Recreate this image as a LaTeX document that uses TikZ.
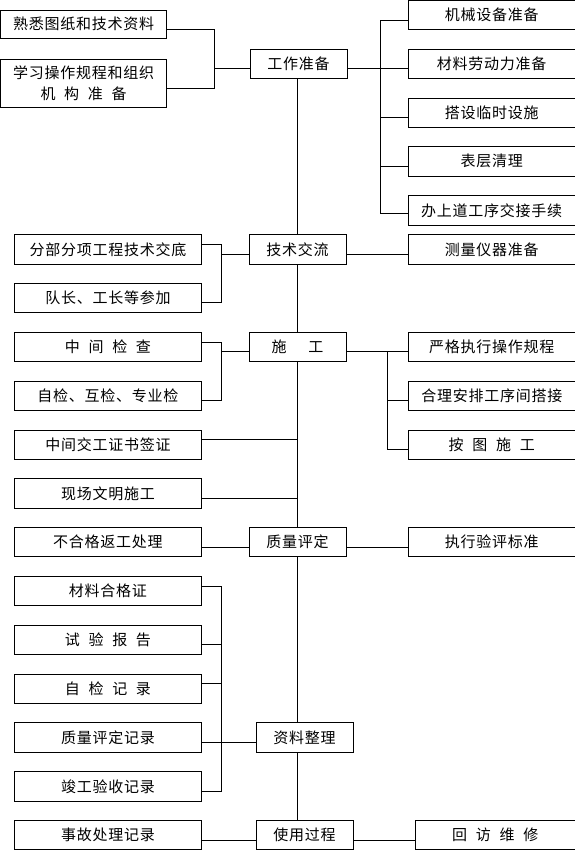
\documentclass[tikz,border=0pt]{standalone}
\usepackage{fontspec}
\newfontfamily\cjk[LetterSpace=5]{Noto Sans CJK SC}
\usetikzlibrary{calc}
\newcommand\gp{\hspace{8.7pt}}
\newcommand\bx[6]{\node[box,minimum width={#4pt-#2pt},minimum height={#5pt-#3pt}] (#1) at ({(#2+#4)/2},{(#3+#5)/2}) {#6};}
\begin{document}
\begin{tikzpicture}[x=1pt,y=-1pt,
  box/.style={draw,line width=0.9pt,inner sep=0pt,align=center,font=\cjk\fontsize{15}{21.7}\selectfont},
  ln/.style={line width=0.9pt}]
\useasboundingbox (0,0) rectangle (574,850);
% left top
\bx{a1}{0.5}{10}{166.7}{38.3}{熟悉图纸和技术资料}
\bx{a2}{0.5}{59.3}{166.7}{107.3}{学习操作规程和组织\\机\gp 构\gp 准\gp 备}
% main column
\bx{m1}{250}{49.3}{347}{78.3}{工作准备}
\bx{m2}{249}{234.3}{346}{264.3}{技术交流}
\bx{m3}{249}{332.7}{346}{361.7}{施\hspace{22pt}工}
\bx{m4}{249}{527.3}{346}{556.7}{质量评定}
\bx{m5}{256}{722.7}{353}{752.7}{资料整理}
\bx{m6}{256}{820}{353}{849.3}{使用过程}
% right top
\bx{r1}{408.3}{0.5}{575}{29.3}{机械设备准备}
\bx{r2}{408.3}{49.3}{575}{78.3}{材料劳动力准备}
\bx{r3}{408.3}{98.3}{575}{127.3}{搭设临时设施}
\bx{r4}{408.3}{146.7}{575}{176}{表层清理}
\bx{r5}{408.3}{195.7}{575}{225}{办上道工序交接手续}
\bx{r6}{408.5}{234.3}{575}{264.3}{测量仪器准备}
\bx{r7}{408.5}{332.7}{575}{361.7}{严格执行操作规程}
\bx{r8}{408.5}{381.7}{575}{410.3}{合理安排工序间搭接}
\bx{r9}{408.5}{430}{575}{459.3}{按\gp 图\gp 施\gp 工}
\bx{r10}{408.5}{527.3}{575}{556.7}{执行验评标准}
\bx{r11}{415.5}{820}{575}{849.3}{回\gp 访\gp 维\gp 修}
% left middle
\bx{b1}{14.6}{234.3}{201.3}{264.3}{分部分项工程技术交底}
\bx{b2}{14.6}{283.3}{201.3}{312.3}{队长、工长等参加}
\bx{b3}{14.6}{332.7}{201.3}{361.7}{中\gp 间\gp 检\gp 查}
\bx{b4}{14.6}{381.7}{201.3}{410.3}{自检、互检、专业检}
\bx{b5}{14.6}{430}{201.3}{459.3}{中间交工证书签证}
\bx{b6}{14.6}{478.3}{201.3}{508.3}{现场文明施工}
\bx{b7}{14.6}{527.3}{201.3}{556.7}{不合格返工处理}
\bx{b8}{14.6}{576.7}{201.3}{605.3}{材料合格证}
\bx{b9}{14.6}{625}{201.3}{654.3}{试\gp 验\gp 报\gp 告}
\bx{b10}{14.6}{674.3}{201.3}{703.3}{自\gp 检\gp 记\gp 录}
\bx{b11}{14.6}{722.7}{201.3}{752.7}{质量评定记录}
\bx{b12}{14.6}{771.7}{201.3}{801.7}{竣工验收记录}
\bx{b13}{14.6}{820}{201.3}{849.3}{事故处理记录}
% junction coordinates
\coordinate (T) at (297,0);
\coordinate (jA) at (214.3,68.3);
\coordinate (jB) at (380.7,68.3);
\coordinate (jC) at (221.5,254.3);
\coordinate (jD) at (221.5,351.7);
\coordinate (jE) at (387.3,351.7);
\coordinate (jF) at (221.5,742.3);
% trunk
\draw[ln] (m1.south -| T) -- (m2.north -| T);
\draw[ln] (m2.south -| T) -- (m3.north -| T);
\draw[ln] (m3.south -| T) -- (m4.north -| T);
\draw[ln] (m4.south -| T) -- (m5.north -| T);
\draw[ln] (m5.south -| T) -- (m6.north -| T);
% top left bracket
\draw[ln] (a1.east |- 0,29.3) -| (jA) |- (a2.east |- 0,88.3);
\draw[ln] (jA) -- (m1.west |- jA);
% top right bracket
\draw[ln] (m1.east |- jB) -- (r2.west |- jB);
\draw[ln] (r1.west |- 0,20.7) -| (jB) |- (r5.west |- 0,213.3);
\draw[ln] (r3.west |- 0,117.3) -- (jB |- 0,117.3);
\draw[ln] (r4.west |- 0,166) -- (jB |- 0,166);
% tech exchange
\draw[ln] (b1.east |- 0,244.3) -| (jC) |- (b2.east |- 0,302.7);
\draw[ln] (jC) -- (m2.west |- jC);
\draw[ln] (m2.east |- jC) -- (r6.west |- jC);
% construction
\draw[ln] (b3.east |- 0,342.3) -| (jD) |- (b4.east |- 0,400.3);
\draw[ln] (jD) -- (m3.west |- jD);
\draw[ln] (m3.east |- jE) -- (r7.west |- jE);
\draw[ln] (jE) |- (r9.west |- 0,449.3);
\draw[ln] (r8.west |- 0,400.3) -- (jE |- 0,400.3);
\draw[ln] (b5.east |- 0,439.3) -- (T |- 0,439.3);
\draw[ln] (b6.east |- 0,498.3) -- (T |- 0,498.3);
% quality
\draw[ln] (b7.east |- 0,547) -- (m4.west |- 0,547);
\draw[ln] (m4.east |- 0,547) -- (r10.west |- 0,547);
% records
\draw[ln] (b8.east |- 0,586) -| (jF) |- (b12.east |- 0,791.7);
\draw[ln] (b9.east |- 0,644.3) -- (jF |- 0,644.3);
\draw[ln] (b10.east |- 0,683.3) -- (jF |- 0,683.3);
\draw[ln] (b11.east |- jF) -- (m5.west |- jF);
% use
\draw[ln] (b13.east |- 0,840) -- (m6.west |- 0,840);
\draw[ln] (m6.east |- 0,840) -- (r11.west |- 0,840);
\end{tikzpicture}
\end{document}
